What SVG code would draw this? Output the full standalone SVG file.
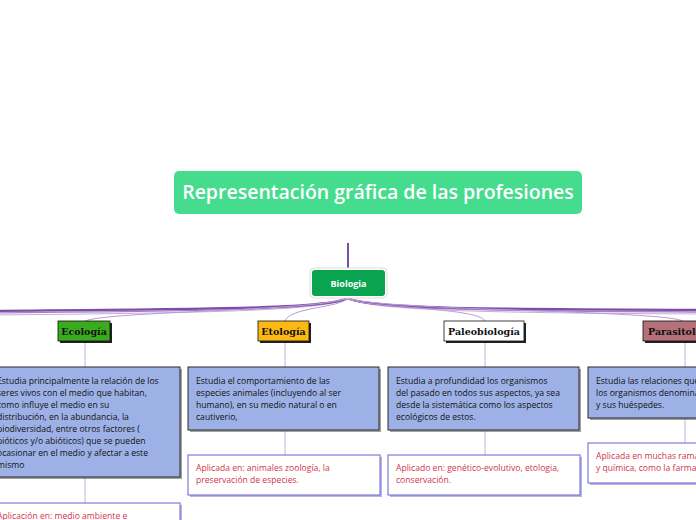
<svg xmlns="http://www.w3.org/2000/svg" width="696" height="520" viewBox="0 0 696 520">
<defs>
<style>
.title{font-family:"Open Sans","Noto Sans",sans-serif;font-size:19.5px;font-weight:600;fill:#fff}
.lbl{font-family:"DejaVu Serif",serif;font-size:9.5px;font-weight:bold;fill:#111}
.desc{font-family:"Open Sans","Noto Sans",sans-serif;font-size:8.6px;fill:#111}
.app{font-family:"Open Sans","Noto Sans",sans-serif;font-size:8.6px;fill:#d0334e}
.dbox{fill:#9db1e6;stroke:#2b2b2b;stroke-width:1}
.abox{fill:#fff;stroke:#6a62d0;stroke-width:1}
.shadow{fill:#555;opacity:0.55}
.ashadow{fill:#8a86d8;opacity:0.6}
.lshadow{fill:#222}
.thin{fill:none;stroke:#b99bd8;stroke-width:1}
.vline{fill:none;stroke:#c7aee0;stroke-width:1}
.bundle{fill:none;stroke:#7d4ea9}
</style>
</defs>
<rect width="696" height="520" fill="#fff"/>

<g id="connectors">
<path d="M348,243 L348,269" stroke="#7d4ea9" stroke-width="2" fill="none"/>
<path class="bundle" d="M348,298 C330,309 200,309 -10,311" stroke-width="2.2"/>
<path class="bundle" d="M348,298 C330,310 200,311 -10,313" stroke-width="1.4" opacity="0.7"/>
<path class="bundle" d="M348,298 C330,311 200,313 -10,315" stroke-width="1" opacity="0.45"/>
<path class="bundle" d="M348,298 C366,309 500,309 706,310" stroke-width="2.2"/>
<path class="bundle" d="M348,298 C366,310 500,311 706,312" stroke-width="1.4" opacity="0.7"/>
<path class="bundle" d="M348,298 C366,311 500,313 706,314" stroke-width="1" opacity="0.45"/>
<path class="thin" d="M348,298 C320,311 110,311 85,321"/>
<path class="thin" d="M348,298 C340,308 290,307 285,321"/>
<path class="thin" d="M348,298 C356,308 480,307 485,321"/>
<path class="thin" d="M348,298 C380,311 660,310 683,321"/>
<path class="vline" d="M85,342 V367 M285,342 V367 M485,342 V367 M685,342 V367"/>
<path class="vline" d="M85,477 V503 M285,431 V455 M485,431 V455 M685,419 V443"/>
</g>

<g id="title">
<rect x="174" y="171" width="408" height="43" rx="5" fill="#46dc8e"/>
<text class="title" x="378" y="199" text-anchor="middle">Representación gráfica de las profesiones</text>
</g>

<g id="biologia">
<rect x="310" y="268" width="77" height="30" rx="4" fill="#fff" stroke="#ddd"/>
<rect x="312" y="270" width="73" height="26" rx="3" fill="#0aa350"/>
<text x="348.5" y="287" text-anchor="middle" font-family="Open Sans, Noto Sans, sans-serif" font-size="9" font-weight="bold" fill="#fff">Biologia</text>
</g>

<g id="ecologia">
<rect class="lshadow" x="60" y="323" width="52" height="20"/>
<rect x="58" y="321" width="52" height="20" fill="#3aab1f" stroke="#111" stroke-width="0.8"/>
<text class="lbl" x="84" y="334.5" text-anchor="middle">Ecología</text>
</g>

<g id="etologia">
<rect class="lshadow" x="260" y="323" width="51" height="20"/>
<rect x="258" y="321" width="51" height="20" fill="#fdb913" stroke="#111" stroke-width="0.8"/>
<text class="lbl" x="283.5" y="334.5" text-anchor="middle">Etología</text>
</g>

<g id="paleobiologia">
<rect class="lshadow" x="446" y="323" width="80" height="20"/>
<rect x="444" y="321" width="80" height="20" fill="#fff" stroke="#111" stroke-width="0.8"/>
<text class="lbl" x="484" y="334.5" text-anchor="middle">Paleobiología</text>
</g>

<g id="parasitologia">
<rect class="lshadow" x="645" y="323" width="74" height="20"/>
<rect x="643" y="321" width="74" height="20" fill="#b5707a" stroke="#111" stroke-width="0.8"/>
<text class="lbl" x="648" y="334.5">Parasitología</text>
</g>

<g id="ecologia-desc">
<rect class="shadow" x="-8" y="369" width="190" height="110"/>
<rect class="dbox" x="-10" y="367" width="190" height="110"/>
<text class="desc" x="-3" y="384">Estudia principalmente la relación de los</text>
<text class="desc" x="-3" y="396">seres vivos con el medio que habitan,</text>
<text class="desc" x="-3" y="408">como influye el medio en su</text>
<text class="desc" x="-3" y="420">distribución, en la abundancia, la</text>
<text class="desc" x="-3" y="432">biodiversidad, entre otros factores (</text>
<text class="desc" x="-3" y="444">bióticos y/o abióticos) que se pueden</text>
<text class="desc" x="-3" y="456">ocasionar en el medio y afectar a este</text>
<text class="desc" x="-3" y="468">mismo</text>
</g>

<g id="ecologia-app">
<rect class="ashadow" x="-8" y="505" width="190" height="30"/>
<rect class="abox" x="-10" y="503" width="190" height="30"/>
<text class="app" x="-3" y="519">Aplicación en: medio ambiente e</text>
</g>

<g id="etologia-desc">
<rect class="shadow" x="190" y="369" width="191" height="63"/>
<rect class="dbox" x="188" y="367" width="191" height="63"/>
<text class="desc" x="196" y="383.5">Estudia el comportamiento de las</text>
<text class="desc" x="196" y="395.5">especies animales (incluyendo al ser</text>
<text class="desc" x="196" y="407.5">humano), en su medio natural o en</text>
<text class="desc" x="196" y="419.5">cautiverio,</text>
</g>

<g id="etologia-app">
<rect class="ashadow" x="190" y="457" width="192" height="40"/>
<rect class="abox" x="188" y="455" width="192" height="40"/>
<text class="app" x="196" y="471">Aplicada en: animales zoología, la</text>
<text class="app" x="196" y="483">preservación de especies.</text>
</g>

<g id="paleobiologia-desc">
<rect class="shadow" x="390" y="369" width="191" height="63"/>
<rect class="dbox" x="388" y="367" width="191" height="63"/>
<text class="desc" x="396" y="383.5">Estudia a profundidad los organismos</text>
<text class="desc" x="396" y="395.5">del pasado en todos sus aspectos, ya sea</text>
<text class="desc" x="396" y="407.5">desde la sistemática como los aspectos</text>
<text class="desc" x="396" y="419.5">ecológicos de estos.</text>
</g>

<g id="paleobiologia-app">
<rect class="ashadow" x="390" y="457" width="192" height="40"/>
<rect class="abox" x="388" y="455" width="192" height="40"/>
<text class="app" x="396" y="471">Aplicado en: genético-evolutivo, etologia,</text>
<text class="app" x="396" y="483">conservación.</text>
</g>

<g id="parasitologia-desc">
<rect class="shadow" x="590" y="369" width="191" height="51"/>
<rect class="dbox" x="588" y="367" width="191" height="51"/>
<text class="desc" x="596" y="383.5">Estudia las relaciones que se establecen entre</text>
<text class="desc" x="596" y="395.5">los organismos denominados parásitos</text>
<text class="desc" x="596" y="407.5">y sus huéspedes.</text>
</g>

<g id="parasitologia-app">
<rect class="ashadow" x="590" y="445" width="192" height="40"/>
<rect class="abox" x="588" y="443" width="192" height="40"/>
<text class="app" x="596" y="459">Aplicada en muchas ramas de la biología</text>
<text class="app" x="596" y="471">y química, como la farmacia</text>
</g>
</svg>
